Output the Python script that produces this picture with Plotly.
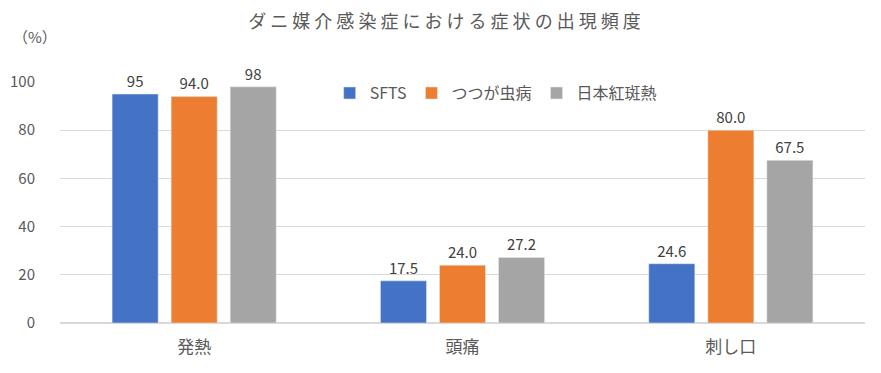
import plotly.graph_objects as go

categories = ["発熱", "頭痛", "刺し口"]
series_names = ["SFTS", "つつが虫病", "日本紅斑熱"]
sfts = [95, 17.5, 24.6]
tsutsuga = [94.0, 24.0, 80.0]
koukehan = [98, 27.2, 67.5]
sfts_text = ["95", "17.5", "24.6"]
tsutsuga_text = ["94.0", "24.0", "80.0"]
koukehan_text = ["98", "27.2", "67.5"]
y_ticks = [0, 20, 40, 60, 80, 100]

colors = ["#4472C4", "#ED7D31", "#A5A5A5"]
font = "Noto Sans CJK JP, sans-serif"

fig = go.Figure()
for name, vals, txt, c in zip(series_names, [sfts, tsutsuga, koukehan],
                              [sfts_text, tsutsuga_text, koukehan_text], colors):
    fig.add_trace(go.Bar(
        x=categories, y=vals, name=name, marker_color=c,
        text=txt, textposition="outside", cliponaxis=False,
        textfont=dict(size=15, color="#404040", family=font),
    ))

# page body has an 8px margin: compensate so the plot area lands where it should
fig.update_layout(
    width=873, height=365,
    margin=dict(l=52, r=16, t=74, b=50),
    paper_bgcolor="white", plot_bgcolor="white",
    barmode="group", bargap=0.34, bargroupgap=0.22,
    font=dict(family=font, color="#595959", size=14),
    title=dict(text="ダ ニ 媒 介 感 染 症 に お け る 症 状 の 出 現 頻 度",
               x=0.5, xanchor="center", y=0.962, yanchor="middle",
               font=dict(size=18, color="#595959", family=font)),
    legend=dict(orientation="h", x=0.335, y=0.954, xanchor="left", yanchor="middle",
                bgcolor="rgba(0,0,0,0)", font=dict(size=16, color="#595959"),
                itemwidth=30, traceorder="normal"),
    showlegend=True,
)
fig.update_yaxes(range=[0, 100], tickvals=y_ticks, showgrid=True, gridcolor="#D9D9D9",
                 zeroline=True, zerolinecolor="#D9D9D9", ticks="", showline=False,
                 ticklabelstandoff=24, automargin=False,
                 tickfont=dict(size=15, color="#595959"))
fig.update_xaxes(showline=True, linecolor="#D9D9D9", ticks="", ticklabelstandoff=9,
                 automargin=False,
                 tickfont=dict(size=17, color="#595959"))
fig.add_annotation(text="（%）", xref="paper", yref="paper", x=-0.031, y=1.187,
                   showarrow=False, xanchor="center", yanchor="middle",
                   font=dict(size=15, color="#595959"))

fig.write_html("out.html")
